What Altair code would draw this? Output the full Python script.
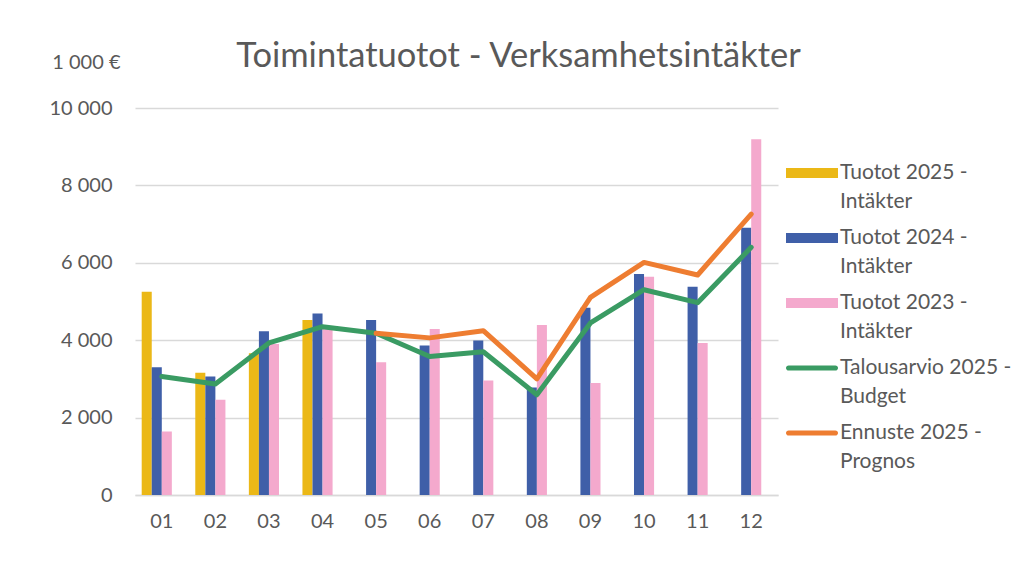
import altair as alt
import pandas as pd

months = ["01", "02", "03", "04", "05", "06", "07", "08", "09", "10", "11", "12"]
series_names = [
    "Tuotot 2025 -|Intäkter",
    "Tuotot 2024 -|Intäkter",
    "Tuotot 2023 -|Intäkter",
    "Talousarvio 2025 -|Budget",
    "Ennuste 2025 -|Prognos",
]
series_colors = ["#EBB817", "#3F5FA8", "#F4A9CD", "#3A9B63", "#EE7D31"]

tuotot_2025 = [5250, 3160, 3660, 4520, None, None, None, None, None, None, None, None]
tuotot_2024 = [3300, 3065, 4230, 4690, 4520, 3860, 3990, 2780, 4840, 5710, 5380, 6905]
tuotot_2023 = [1640, 2460, 3900, 4315, 3430, 4290, 2960, 4390, 2895, 5640, 3930, 9190]
budget_2025 = [3060, 2870, 3930, 4350, 4180, 3580, 3700, 2590, 4445, 5305, 4970, 6400]
ennuste_2025 = [None, None, None, None, 4180, 4060, 4245, 3000, 5105, 6010, 5685, 7260]

y_ticks = [0, 2000, 4000, 6000, 8000, 10000]

bar_rows = []
for name, vals in zip(series_names[:3], [tuotot_2025, tuotot_2024, tuotot_2023]):
    for m, v in zip(months, vals):
        if v is not None:
            bar_rows.append({"month": m, "series": name, "value": v})
bar_df = pd.DataFrame(bar_rows)

line_rows = []
for name, vals in zip(series_names[3:], [budget_2025, ennuste_2025]):
    for m, v in zip(months, vals):
        if v is not None:
            line_rows.append({"month": m, "series": name, "value": v})
line_df = pd.DataFrame(line_rows)

key_df = pd.DataFrame({"series": series_names})

bar_path = "M-1,-0.19H1V0.19H-1Z"
line_path = "M-0.9,-0.1H0.9A0.1,0.1 0 0 1 0.9,0.1H-0.9A0.1,0.1 0 0 1 -0.9,-0.1Z"

color_scale = alt.Scale(domain=series_names, range=series_colors)
shape_scale = alt.Scale(domain=series_names, range=[bar_path] * 3 + [line_path] * 2)

legend = alt.Legend(
    title=None,
    orient="none",
    legendX=651,
    legendY=39,
    labelExpr="split(datum.label, '|')",
    labelFontSize=21,
    labelColor="#595959",
    labelFont="Lato",
    labelLimit=0,
    labelOffset=2,
    symbolSize=2704,
    symbolStrokeWidth=0,
    symbolOpacity=1,
    rowPadding=0,
    padding=0,
)

x_scale = alt.Scale(paddingInner=0.25, paddingOuter=0.125)
x_axis = alt.Axis(
    labelAngle=0,
    ticks=False,
    domainColor="#D9D9D9",
    domainWidth=1.5,
    labelPadding=16,
    labelFontSize=20,
    labelColor="#595959",
    grid=False,
    title=None,
)
y_axis = alt.Axis(
    values=y_ticks,
    labelExpr="replace(format(datum.value, ','), ',', ' ')",
    grid=True,
    gridColor="#D9D9D9",
    gridWidth=1.5,
    domain=False,
    ticks=False,
    labelPadding=23,
    labelFontSize=20,
    labelColor="#595959",
    title="1 000 €",
    titleAngle=0,
    titleAlign="right",
    titleBaseline="middle",
    titleX=-15,
    titleY=-46,
    titleFontSize=20,
    titleFontWeight="normal",
    titleColor="#595959",
)

bars = alt.Chart(bar_df).mark_bar().encode(
    x=alt.X("month:N", sort=months, scale=x_scale, axis=x_axis),
    xOffset=alt.XOffset("series:N", scale=alt.Scale(domain=series_names[:3] + ["_"])),
    y=alt.Y("value:Q", scale=alt.Scale(domain=[0, 10000]), axis=y_axis),
    color=alt.Color("series:N", scale=color_scale, legend=legend),
)

lines = alt.Chart(line_df).mark_line(strokeWidth=5, strokeJoin="round", strokeCap="round").encode(
    x=alt.X("month:N", sort=months, bandPosition=0.5),
    y=alt.Y("value:Q"),
    color=alt.Color("series:N", scale=color_scale, legend=legend),
)

keys = alt.Chart(key_df).transform_filter("false").mark_point(filled=True, opacity=1).encode(
    color=alt.Color("series:N", scale=color_scale, legend=legend),
    shape=alt.Shape("series:N", scale=shape_scale, legend=legend),
)

chart = alt.layer(bars, lines, keys).properties(
    width=643,
    height=387,
    autosize="none",
    padding={"left": 127, "top": 100, "right": 239, "bottom": 50},
    title=alt.TitleParams(
        "Toimintatuotot - Verksamhetsintäkter",
        fontSize=34.5,
        fontWeight="normal",
        color="#595959",
        anchor="middle",
        dx=62,
        dy=26,
        font="Lato",
    ),
).configure(
    font="Lato",
    style={"guide-label": {"lineHeight": 29}},
).configure_view(stroke=None)

chart.save("out.html", embed_options={"renderer": "svg", "actions": False})
